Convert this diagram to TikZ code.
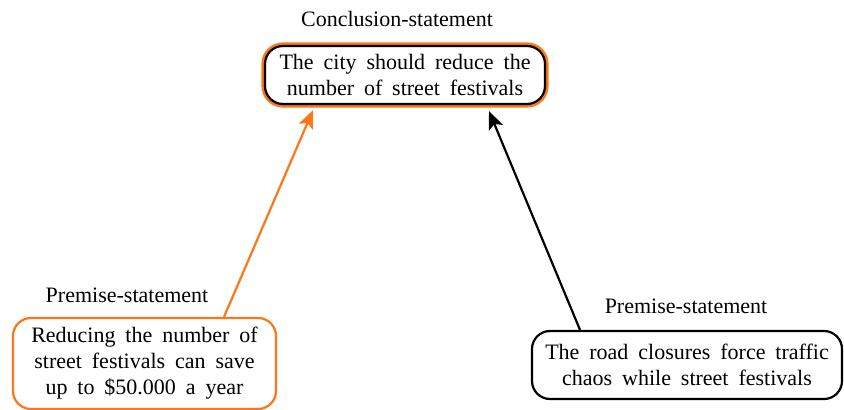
\documentclass[tikz,border=0pt]{standalone}
\usepackage{fontspec}
\setmainfont{Liberation Serif}
\newfontfamily\boxfont[WordSpace=1.8]{Liberation Serif}
\usetikzlibrary{calc,arrows.meta}
\definecolor{argorange}{RGB}{255,118,22}
\tikzset{
  stmt/.style={rounded corners=9pt, fill=white, inner sep=0pt, align=center,
    font=\boxfont\fontsize{11}{13}\selectfont},
  caption/.style={font=\fontsize{11}{13}\selectfont, inner sep=0pt},
  link/.style={line width=1.1pt, -{Stealth[length=9pt,width=7.5pt,inset=2pt]}},
}
\begin{document}
\begin{tikzpicture}[x=0.5pt, y=-0.5pt]
  \useasboundingbox (0,0) rectangle (844,410);
  % conclusion: black frame with an orange outer rim
  \node[stmt, draw=black, line width=1.1pt,
        preaction={draw=argorange, line width=3.6pt},
        minimum width=140pt, minimum height=29pt] (C) at (405,75)
    {The city should reduce the\\number of street festivals};
  \node[caption] (CL) at (397,19) {Conclusion-statement};
  % premises
  \node[stmt, draw=argorange, line width=1.1pt,
        minimum width=131.5pt, minimum height=45.5pt] (L) at (144.5,363.5)
    {Reducing the number of\\street festivals can save\\up to \$50.000 a year};
  \node[caption] (LL) at (127,295) {Premise-statement};
  \node[stmt, draw=black, line width=1.1pt,
        minimum width=155pt, minimum height=34pt] (R) at (687,365)
    {The road closures force traffic\\chaos while street festivals};
  \node[caption] (RL) at (686,306) {Premise-statement};
  % support links
  \draw[link, argorange] ($(L.north)+(79.5,0)$) -- ($(C.south)+(-92,5)$);
  \draw[link, black] ($(R.north)+(-107,0)$) -- ($(C.south)+(84,6)$);
\end{tikzpicture}
\end{document}
